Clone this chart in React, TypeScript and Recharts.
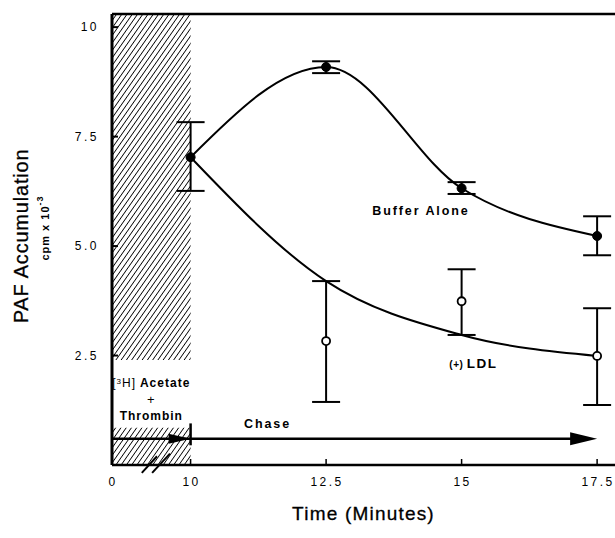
import React from 'react'
import {
  LineChart,
  Line,
  XAxis,
  YAxis,
  ErrorBar,
  ReferenceArea,
  ReferenceLine,
  ReferenceDot,
} from 'recharts'

// sampling times (minutes) after thrombin
const times = [10, 12.5, 15, 17.5]

// Buffer alone: mean and error bar extents (cpm x 10^-3)
const bufferMean = [7.03, 9.09, 6.32, 5.23]
const bufferErrLow = [0.77, 0.14, 0.13, 0.44]
const bufferErrHigh = [0.8, 0.13, 0.14, 0.45]

// (+) LDL: fitted curve and measured means
const ldlFit = [7.03, 4.2, 2.97, 2.49]
const ldlTimes = [12.5, 15, 17.5]
const ldlMean = [2.83, 3.74, 2.49]
const ldlErrLow = [1.39, 0.77, 1.12]
const ldlErrHigh = [1.37, 0.73, 1.09]

// axis: 0..10 is drawn compressed (broken axis)
const axisStart = 8.55
const axisEnd = 17.83
const xTicks = [axisStart, 10, 12.5, 15, 17.5]
const xTickLabels = ['0', '10', '12.5', '15', '17.5']
const yTicks = [2.5, 5, 7.5, 10]
const yTickLabels = ['2.5', '5.0', '7.5', '10']
const yMax = 10.3

const bufferData = times.map((t, i) => ({
  t,
  v: bufferMean[i],
  err: [bufferErrLow[i], bufferErrHigh[i]],
}))
const fitData = times.map((t, i) => ({ t, v: ldlFit[i] }))
const ldlData = ldlTimes.map((t, i) => ({
  t,
  v: ldlMean[i],
  err: [ldlErrLow[i], ldlErrHigh[i]],
}))

const FONT = '"Liberation Sans", Arial, sans-serif'

const XTick = (props: any) => {
  const { x, y, index } = props
  return (
    <g>
      {index > 0 && <line x1={x} x2={x} y1={y} y2={y - 6} stroke="#000" strokeWidth={1.5} />}
      <text
        x={x + 1}
        y={y + 21}
        textAnchor="middle"
        fontFamily={FONT}
        fontSize={12}
        letterSpacing={2.5}
        fill="#000"
      >
        {xTickLabels[index]}
      </text>
    </g>
  )
}

const YTick = (props: any) => {
  const { x, y, index } = props
  return (
    <g>
      <line x1={x} x2={x + 6} y1={y} y2={y} stroke="#000" strokeWidth={2} />
      <text
        x={x - 13}
        y={y + 4}
        textAnchor="end"
        fontFamily={FONT}
        fontSize={12}
        letterSpacing={2.5}
        fill="#000"
      >
        {yTickLabels[index]}
      </text>
    </g>
  )
}

const YLabel = (props: any) => {
  const { viewBox } = props
  const cy = viewBox.y + 222
  return (
    <g fontFamily={FONT} fill="#000">
      <text
        x={21}
        y={cy}
        transform={`rotate(-90, 21, ${cy})`}
        textAnchor="middle"
        dominantBaseline="central"
        fontSize={20}
        letterSpacing={0.8}
        stroke="#000"
        strokeWidth={0.3}
      >
        PAF Accumulation
      </text>
      <text
        x={45}
        y={cy - 8}
        transform={`rotate(-90, 45, ${cy - 8})`}
        textAnchor="middle"
        dominantBaseline="central"
        fontSize={11}
        fontWeight="bold"
        letterSpacing={1}
      >
        cpm x 10
        <tspan dy={-5} fontSize={9}>-3</tspan>
      </text>
    </g>
  )
}

const XLabel = (props: any) => {
  const { viewBox } = props
  return (
    <text
      x={viewBox.x + viewBox.width / 2}
      y={520}
      textAnchor="middle"
      fontFamily={FONT}
      fontSize={19}
      letterSpacing={1.2}
      stroke="#000"
      strokeWidth={0.3}
      fill="#000"
    >
      Time (Minutes)
    </text>
  )
}

const PulseLabel = (props: any) => {
  const { viewBox } = props
  const cx = viewBox.x + viewBox.width / 2
  const st = { fontFamily: FONT, fontSize: 12, fontWeight: 'bold' as const, letterSpacing: 1 }
  return (
    <g fill="#000">
      <text x={cx} y={viewBox.y + 27} textAnchor="middle" {...st}>
        <tspan fontWeight="normal">[</tspan>
        <tspan fontSize={8} dy={-3} fontWeight="normal">3</tspan>
        <tspan dy={3} fontWeight="normal">H]</tspan> Acetate
      </text>
      <text x={cx} y={viewBox.y + 44} textAnchor="middle" {...st} fontSize={13} fontWeight="normal">
        +
      </text>
      <text x={cx} y={viewBox.y + 60} textAnchor="middle" {...st}>
        Thrombin
      </text>
    </g>
  )
}

const LdlLabel = (props: any) => {
  const { viewBox } = props
  return (
    <text
      x={viewBox.x + viewBox.width / 2}
      y={viewBox.y + viewBox.height / 2 + 5}
      textAnchor="middle"
      fontFamily={FONT}
      fontWeight="bold"
      fill="#000"
    >
      <tspan fontSize={10} letterSpacing={0.5}>(+) </tspan>
      <tspan fontSize={13.5} letterSpacing={1.6}>LDL</tspan>
    </text>
  )
}

const textLabel = (value: string, size = 12.5) => ({
  value,
  position: 'center' as const,
  fill: '#000',
  fontFamily: FONT,
  fontSize: size,
  fontWeight: 'bold',
  letterSpacing: 1.9,
})

const ArrowHead = (len: number, half: number) => (props: any) => {
  const { cx, cy } = props
  return <path d={`M${cx},${cy} L${cx - len},${cy - half} L${cx - len},${cy + half} Z`} fill="#000" />
}

export default function App() {
  return (
    <div style={{ width: 615, height: 538, background: '#fff' }}>
      <style>{'body{margin:0}'}</style>
      <LineChart
        width={615}
        height={538}
        margin={{ top: 14, right: 0, left: 50, bottom: 43 }}
      >
        <defs>
          <pattern
            id="hatch"
            patternUnits="userSpaceOnUse"
            width={4.3}
            height={4.3}
            patternTransform="rotate(35)"
          >
            <line x1={0} y1={0} x2={0} y2={4.3} stroke="#000" strokeWidth={1.7} />
          </pattern>
        </defs>
        <XAxis
          type="number"
          dataKey="t"
          domain={[axisStart, axisEnd]}
          ticks={xTicks}
          allowDataOverflow
          height={30}
          tickSize={0}
          tickMargin={0}
          tickLine={false}
          tick={<XTick />}
          axisLine={{ stroke: '#000', strokeWidth: 2.5 }}
          label={<XLabel />}
        />
        <YAxis
          type="number"
          domain={[0, yMax]}
          ticks={yTicks}
          allowDataOverflow
          width={62}
          tickSize={0}
          tickMargin={0}
          tickLine={false}
          tick={<YTick />}
          axisLine={{ stroke: '#000', strokeWidth: 3 }}
          label={<YLabel />}
        />
        <ReferenceArea x1={axisStart} x2={10} y1={2.4} y2={yMax} fill="url(#hatch)" fillOpacity={1} stroke="none" />
        <ReferenceArea x1={axisStart} x2={10} y1={0} y2={0.85} fill="url(#hatch)" fillOpacity={1} stroke="none" />
        <ReferenceArea
          x1={axisStart}
          x2={10}
          y1={0.85}
          y2={2.4}
          fill="none"
          stroke="none"
          label={<PulseLabel />}
        />
        <ReferenceLine y={yMax} stroke="#000" strokeWidth={2.5} />
        <ReferenceLine
          segment={[{ x: axisStart, y: 0.6 }, { x: 17.1, y: 0.6 }]}
          stroke="#000"
          strokeWidth={2.5}
        />
        <ReferenceLine
          segment={[{ x: 10, y: 0.45 }, { x: 10, y: 0.95 }]}
          stroke="#000"
          strokeWidth={2.5}
        />
        <ReferenceLine
          segment={[{ x: 9.1, y: -0.18 }, { x: 9.38, y: 0.2 }]}
          stroke="#000"
          strokeWidth={2}
          ifOverflow="visible"
        />
        <ReferenceLine
          segment={[{ x: 9.29, y: -0.18 }, { x: 9.62, y: 0.26 }]}
          stroke="#000"
          strokeWidth={2}
          ifOverflow="visible"
        />
        <ReferenceDot x={10} y={0.6} r={1} shape={ArrowHead(22, 5)} />
        <ReferenceDot x={17.5} y={0.6} r={1} shape={ArrowHead(27, 6.5)} />
        <ReferenceDot x={11.42} y={0.94} r={0} fill="none" stroke="none" label={textLabel('Chase')} />
        <ReferenceDot x={14.25} y={5.8} r={0} fill="none" stroke="none" label={textLabel('Buffer Alone')} />
        <ReferenceDot x={15.22} y={2.33} r={0} fill="none" stroke="none" label={<LdlLabel />} />
        <Line
          data={fitData}
          dataKey="v"
          type="monotone"
          stroke="#000"
          strokeWidth={2}
          dot={false}
          isAnimationActive={false}
        />
        <Line
          data={bufferData}
          dataKey="v"
          type="monotone"
          stroke="#000"
          strokeWidth={2}
          dot={{ r: 4.5, fill: '#000', stroke: '#000', strokeWidth: 1 }}
          isAnimationActive={false}
        >
          <ErrorBar dataKey="err" width={14} stroke="#000" strokeWidth={2} direction="y" />
        </Line>
        <Line
          data={ldlData}
          dataKey="v"
          stroke="none"
          dot={{ r: 4, fill: '#fff', stroke: '#000', strokeWidth: 1.8 }}
          isAnimationActive={false}
        >
          <ErrorBar dataKey="err" width={14} stroke="#000" strokeWidth={2} direction="y" />
        </Line>
      </LineChart>
    </div>
  )
}
